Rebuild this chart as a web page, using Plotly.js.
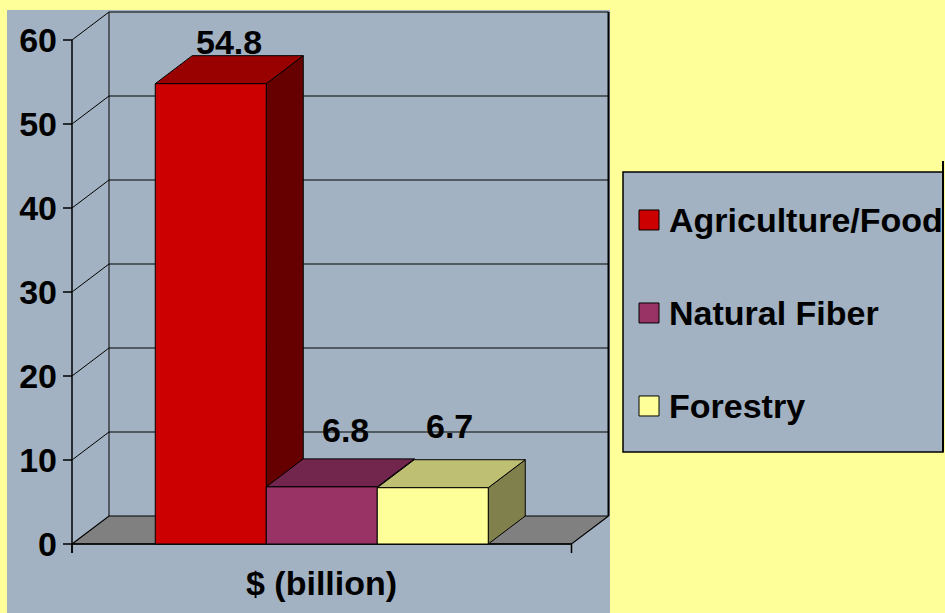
<!DOCTYPE html>
<html>
<head>
<meta charset="utf-8">
<script src="https://cdn.plot.ly/plotly-3.0.1.min.js"></script>
<style>html,body{margin:0;padding:0;background:#FFFF99;}</style>
</head>
<body>
<div id="chart" style="width:945px;height:613px;"></div>
<script>
// ---- data ----
const categories = ["Agriculture/Food", "Natural Fiber", "Forestry"];
const values = [54.8, 6.8, 6.7];
const valueLabels = ["54.8", "6.8", "6.7"];
const yTicks = [0, 10, 20, 30, 40, 50, 60];
const yTickLabels = ["0", "10", "20", "30", "40", "50", "60"];
const axisTitle = "$ (billion)";

// ---- styles ----
const frontColors = ["#CC0000", "#993366", "#FFFF99"];
const topColors = ["#990000", "#73264D", "#BFBF73"];
const sideColors = ["#660000", "#4D1A33", "#80804D"];
const bgGray = "#A2B2C2";
const floorGray = "#808080";
const FONT = "Liberation Sans, Arial, sans-serif";

// ---- geometry (pixels / layout) ----
const W = 945, H = 613;
const PX_X0 = 72, UX = 111;     // pixel of floor-left, pixels per bar
const PX_Y0 = 544, UY = 8.4;    // pixel of value 0, pixels per unit
const xmin = -0.75, floorR = 3.75;
const dx = 37 / UX, dy = 28 / UY;
const xBack = floorR + dx;
const yMax = yTicks[yTicks.length - 1];
const domPx = {l: 60, r: 612, t: 8, b: 556};
const xRange = [xmin - (PX_X0 - domPx.l) / UX, xmin + (domPx.r - PX_X0) / UX];
const yRange = [-(domPx.b - PX_Y0) / UY, (PX_Y0 - domPx.t) / UY];
const tickLenX = 9 / UX, tickLenY = 9 / UY;
const labelXShift = [0, 5, -2];
const labelYShift = [14, 29, 34];

const traces = [];
const blackLine = (w) => ({color: "black", width: w});

// back wall + gridlines
const gx = [], gy = [];
yTicks.forEach(v => {
  if (v > 0) {
    gx.push(xmin + dx, xBack, null); gy.push(v + dy, v + dy, null);
    gx.push(xmin, xmin + dx, null); gy.push(v, v + dy, null);
  }
});
gx.push(xmin + dx, xmin + dx, null); gy.push(dy, yMax + dy, null);
traces.push({x: gx, y: gy, mode: "lines", line: blackLine(1), hoverinfo: "skip", showlegend: false});
traces.push({x: [xBack, xBack], y: [dy, yMax + dy], mode: "lines", line: blackLine(2), hoverinfo: "skip", showlegend: false});

// floor
traces.push({x: [xmin, floorR, floorR + dx, xmin + dx, xmin], y: [0, 0, dy, dy, 0],
  mode: "lines", fill: "toself", fillcolor: floorGray, line: blackLine(1.2), hoverinfo: "skip", showlegend: false});

// front axes + ticks
const ax = [xmin, xmin, null, xmin, floorR, null, floorR, floorR, null, xmin, xmin, null];
const ay = [-tickLenY, yMax, null, 0, 0, null, 0, -tickLenY, null, 0, -tickLenY, null];
yTicks.forEach(v => { ax.push(xmin - tickLenX, xmin, null); ay.push(v, v, null); });
traces.push({x: ax, y: ay, mode: "lines", line: blackLine(1.5), hoverinfo: "skip", showlegend: false});

// 3D bars
values.forEach((v, i) => {
  const x0 = i, x1 = i + 1;
  traces.push({x: [x1, x1 + dx, x1 + dx, x1, x1], y: [0, dy, v + dy, v, 0],
    mode: "lines", fill: "toself", fillcolor: sideColors[i], line: blackLine(1), hoverinfo: "skip", showlegend: false});
  traces.push({x: [x0, x1, x1 + dx, x0 + dx, x0], y: [v, v, v + dy, v + dy, v],
    mode: "lines", fill: "toself", fillcolor: topColors[i], line: blackLine(1), hoverinfo: "skip", showlegend: false});
  traces.push({x: [x0, x1, x1, x0, x0], y: [0, 0, v, v, 0], name: categories[i],
    mode: "lines", fill: "toself", fillcolor: frontColors[i], line: blackLine(1), showlegend: false,
    hovertemplate: categories[i] + ": " + valueLabels[i] + "<extra></extra>"});
});

// legend swatches (second axes)
traces.push({x: categories.map(() => 0), y: categories.map((c, i) => i), xaxis: "x2", yaxis: "y2",
  mode: "markers", marker: {symbol: "square", size: 20, color: frontColors, line: {color: "black", width: 1}},
  hoverinfo: "skip", showlegend: false});

const annotations = values.map((v, i) => ({
  x: i + 0.5 + dx / 2, y: v + dy, xref: "x", yref: "y", text: valueLabels[i], showarrow: false,
  xanchor: "center", yanchor: "middle", xshift: labelXShift[i], yshift: labelYShift[i],
  font: {family: FONT, size: 34, color: "black", weight: "bold"}
}));
annotations.push({x: (xmin + floorR) / 2, y: (H - 583) / H, xref: "x", yref: "paper", text: axisTitle,
  showarrow: false, xanchor: "center", yanchor: "middle",
  font: {family: FONT, size: 34, color: "black", weight: "bold"}});
categories.forEach((c, i) => annotations.push({x: 0, y: i, xref: "x2", yref: "y2", text: c, showarrow: false,
  xanchor: "left", yanchor: "middle", xshift: 18,
  font: {family: FONT, size: 34, color: "black", weight: "bold"}}));

const layout = {
  width: W, height: H,
  margin: {l: 0, r: 0, t: 0, b: 0},
  paper_bgcolor: "#FFFF99",
  plot_bgcolor: "rgba(0,0,0,0)",
  showlegend: false,
  xaxis: {domain: [domPx.l / W, domPx.r / W], range: xRange, visible: false, fixedrange: true},
  yaxis: {domain: [(H - domPx.b) / H, (H - domPx.t) / H], range: yRange, tickvals: yTicks, ticktext: yTickLabels,
    ticks: "", showgrid: false, zeroline: false, showline: false, ticklabelstandoff: 2,
    tickfont: {family: FONT, size: 34, color: "black", weight: "bold"}, fixedrange: true},
  xaxis2: {domain: [623 / W, 943 / W], range: [-26, 294], visible: false, anchor: "y2", fixedrange: true},
  yaxis2: {domain: [(H - 452) / H, (H - 172) / H], range: [2.495, -0.516], visible: false, anchor: "x2", fixedrange: true},
  shapes: [
    {type: "rect", xref: "paper", yref: "paper", x0: 7 / W, x1: 610 / W, y0: 0, y1: (H - 10) / H,
      fillcolor: bgGray, line: {width: 0}, layer: "below"},
    {type: "rect", xref: "paper", yref: "paper", x0: 623 / W, x1: 943 / W, y0: (H - 452) / H, y1: (H - 172) / H,
      fillcolor: bgGray, line: {color: "black", width: 1.5}, layer: "below"},
    {type: "line", xref: "paper", yref: "paper", x0: 943 / W, x1: 943 / W, y0: (H - 452) / H, y1: (H - 161) / H,
      line: {color: "black", width: 2}}
  ],
  annotations: annotations
};

Plotly.newPlot("chart", traces, layout, {displayModeBar: false, staticPlot: true});
</script>
</body>
</html>
